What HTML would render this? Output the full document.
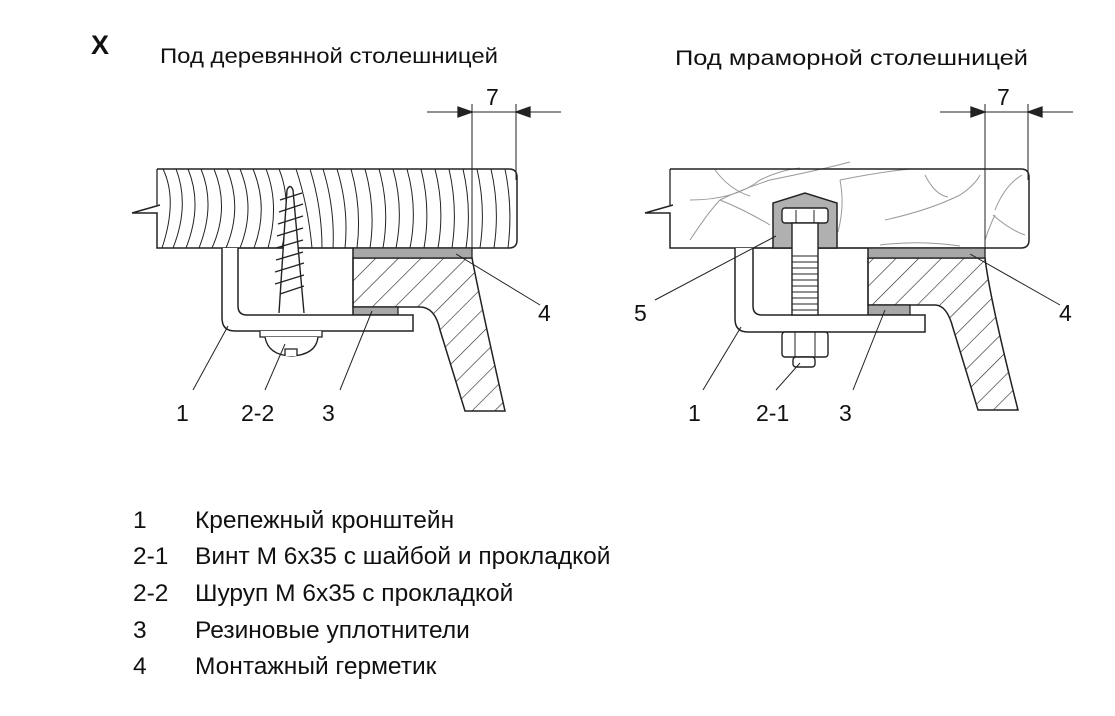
<!DOCTYPE html>
<html><head><meta charset="utf-8"><style>
html,body{margin:0;padding:0;background:#fff;}
svg{display:block;}
text{font-family:"Liberation Sans",Arial,sans-serif;fill:#111;}
</style></head><body>
<svg width="1115" height="716" viewBox="0 0 1115 716" xmlns="http://www.w3.org/2000/svg">
<defs>
<pattern id="hatch" patternUnits="userSpaceOnUse" width="16" height="16" patternTransform="rotate(45)">
<line x1="0" y1="0" x2="0" y2="16" stroke="#222" stroke-width="1.2"/>
</pattern>
<clipPath id="woodclip"><path d="M157,169 H509 Q517,169 517,177 V240 Q517,248 509,248 H157 V213 L132,213 L160,205 Z"/></clipPath>
</defs>

<text x="91" y="54" font-size="27" font-weight="bold">X</text>
<text x="160" y="63" font-size="21" textLength="338" lengthAdjust="spacingAndGlyphs">Под деревянной столешницей</text>
<text x="675" y="65" font-size="21" textLength="353" lengthAdjust="spacingAndGlyphs">Под мраморной столешницей</text>

<!-- ========== LEFT (wood) ========== -->
<g stroke="#222" fill="none" stroke-width="1.3">
<g clip-path="url(#woodclip)" stroke-width="1">
<path d="M163,169 Q178,200 162,248"/>
<path d="M176,169 Q190,205 173,248"/>
<path d="M188,169 Q203,205 186,248"/>
<path d="M201,169 Q216,205 199,248"/>
<path d="M214,169 Q230,208 212,248"/>
<path d="M227,169 Q243,208 226,248"/>
<path d="M240,169 Q256,208 240,248"/>
<path d="M253,169 Q269,208 254,248"/>
<path d="M266,169 Q280,205 268,248"/>
<path d="M279,169 Q292,200 282,248"/>
<path d="M296,169 Q308,205 312,248"/>
<path d="M310,169 Q322,208 322,248"/>
<path d="M323,169 Q335,208 333,248"/>
<path d="M337,169 Q349,208 345,248"/>
<path d="M351,169 Q362,208 357,248"/>
<path d="M365,169 Q376,208 370,248"/>
<path d="M379,169 Q390,208 383,248"/>
<path d="M393,169 Q404,208 396,248"/>
<path d="M407,169 Q418,208 410,248"/>
<path d="M421,169 Q431,208 424,248"/>
<path d="M435,169 Q445,208 438,248"/>
<path d="M449,169 Q458,208 452,248"/>
<path d="M463,169 Q472,208 466,248"/>
<path d="M477,169 Q486,208 480,248"/>
<path d="M491,169 Q500,208 494,248"/>
<path d="M505,169 Q513,208 508,248"/>
</g>
<path d="M157,169 H509 Q517,169 517,177 V240 Q517,248 509,248 H157 V213 L132,213 L160,205" stroke-width="1.5"/>
<line x1="157" y1="169" x2="157" y2="205"/>
<line x1="427" y1="112" x2="561" y2="112" stroke-width="1"/>
<line x1="472" y1="104" x2="472" y2="248" stroke-width="1"/>
<line x1="516" y1="104" x2="516" y2="180" stroke-width="1"/>
<path d="M472,112 L458,107 L458,117 Z" fill="#222"/>
<path d="M516,112 L530,107 L530,117 Z" fill="#222"/>
<path d="M353,258 H472 Q480,300 505,411 H465 L440,330 Q435,307 420,307 H353 Z" fill="url(#hatch)" stroke-width="1.5"/>
<rect x="353" y="248" width="119" height="10" fill="#a8a8a8" stroke-width="1.3"/>
<rect x="353" y="307" width="45" height="8" fill="#a8a8a8" stroke-width="1.3"/>
<path d="M222,248 V318 Q222,331 235,331 H413 V315 H247 Q238,315 238,306 V248" fill="#fff" stroke-width="1.5"/>
<line x1="238" y1="248" x2="353" y2="248"/>
<line x1="353" y1="248" x2="353" y2="315"/>
<path d="M279,313 L287,190 Q290,183 293,190 L304,313" fill="#fff" stroke-width="1.4"/>
<g stroke-width="1.4">
<line x1="280" y1="200" x2="302" y2="193"/>
<line x1="279" y1="212" x2="303" y2="204"/>
<line x1="278" y1="224" x2="303" y2="216"/>
<line x1="277" y1="236" x2="303" y2="228"/>
<line x1="276" y1="248" x2="303" y2="240"/>
<line x1="276" y1="260" x2="303" y2="252"/>
<line x1="275" y1="272" x2="304" y2="263"/>
<line x1="275" y1="284" x2="304" y2="275"/>
<line x1="280" y1="294" x2="304" y2="286"/>
</g>
<path d="M260,331 V337 H322 V331" fill="#fff"/>
<path d="M265,337 Q268,355 291,356 Q316,355 318,337" fill="#fff"/>
<path d="M285,356 V349 H297 V356" fill="#fff"/>
<g stroke-width="1">
<line x1="193" y1="390" x2="228" y2="326"/>
<line x1="265" y1="390" x2="285" y2="344"/>
<line x1="340" y1="390" x2="372" y2="311"/>
<line x1="540" y1="305" x2="456" y2="254"/>
</g>
</g>
<g font-size="23">
<text x="176" y="421">1</text>
<text x="241" y="421">2-2</text>
<text x="322" y="421">3</text>
<text x="538" y="321">4</text>
</g>

<!-- ========== RIGHT (marble) ========== -->
<g stroke="#222" fill="none" stroke-width="1.3">
<g stroke="#999" stroke-width="1">
<path d="M690,240 Q710,210 720,200 Q740,190 770,180"/>
<path d="M715,170 Q730,190 750,196"/>
<path d="M720,200 Q745,210 770,225"/>
<path d="M770,180 Q820,170 850,162"/>
<path d="M690,200 Q735,200 760,180 Q780,170 800,168"/>
<path d="M840,180 Q845,205 838,232"/>
<path d="M840,180 Q880,172 910,169"/>
<path d="M885,220 Q930,210 960,195 Q975,185 980,175"/>
<path d="M925,175 Q935,195 948,197"/>
<path d="M880,245 Q920,240 960,246"/>
<path d="M995,210 Q1005,185 1022,175"/>
<path d="M993,215 Q1010,230 1025,235"/>
<path d="M985,240 Q990,225 995,215"/>
</g>
<path d="M670,169 H1021 Q1029,169 1029,177 V240 Q1029,248 1021,248 H670 V213 L645,213 L673,205" stroke-width="1.5"/>
<line x1="670" y1="169" x2="670" y2="205"/>
<line x1="940" y1="112" x2="1073" y2="112" stroke-width="1"/>
<line x1="985" y1="104" x2="985" y2="248" stroke-width="1"/>
<line x1="1028" y1="104" x2="1028" y2="180" stroke-width="1"/>
<path d="M985,112 L971,107 L971,117 Z" fill="#222"/>
<path d="M1028,112 L1042,107 L1042,117 Z" fill="#222"/>
<path d="M868,258 H985 Q990,300 1018,410 H978 L953,328 Q947,305 935,305 H868 Z" fill="url(#hatch)" stroke-width="1.5"/>
<rect x="868" y="248" width="117" height="10" fill="#a8a8a8" stroke-width="1.3"/>
<rect x="868" y="305" width="42" height="10" fill="#a8a8a8" stroke-width="1.3"/>
<path d="M735,248 V319 Q735,332 748,332 H925 V315 H762 Q753,315 753,306 V248" fill="#fff" stroke-width="1.5"/>
<line x1="753" y1="248" x2="868" y2="248"/>
<line x1="868" y1="248" x2="868" y2="315"/>
<path d="M773,248 V203 L805,193 L837,203 V248 Z" fill="#b0b0b0" stroke-width="1.5"/>
<rect x="782" y="208" width="46" height="15" rx="3" fill="#fff" stroke-width="1.4"/>
<rect x="792" y="223" width="26" height="92" fill="#fff" stroke-width="1.4"/>
<line x1="796" y1="210" x2="796" y2="223" stroke-width="1"/>
<line x1="814" y1="210" x2="814" y2="223" stroke-width="1"/>
<g stroke-width="1">
<line x1="792" y1="256" x2="818" y2="256"/>
<line x1="792" y1="262" x2="818" y2="262"/>
<line x1="792" y1="268" x2="818" y2="268"/>
<line x1="792" y1="274" x2="818" y2="274"/>
<line x1="792" y1="280" x2="818" y2="280"/>
<line x1="792" y1="286" x2="818" y2="286"/>
<line x1="792" y1="292" x2="818" y2="292"/>
<line x1="792" y1="298" x2="818" y2="298"/>
<line x1="792" y1="304" x2="818" y2="304"/>
<line x1="792" y1="310" x2="818" y2="310"/>
</g>
<rect x="782" y="332" width="46" height="25" rx="3" fill="#fff" stroke-width="1.4"/>
<line x1="795" y1="332" x2="795" y2="357" stroke-width="1"/>
<line x1="815" y1="332" x2="815" y2="357" stroke-width="1"/>
<rect x="793" y="357" width="22" height="10" rx="3" fill="#fff" stroke-width="1.4"/>
<g stroke-width="1">
<line x1="655" y1="300" x2="776" y2="236"/>
<line x1="703" y1="390" x2="741" y2="327"/>
<line x1="776" y1="390" x2="800" y2="363"/>
<line x1="853" y1="390" x2="885" y2="310"/>
<line x1="1060" y1="305" x2="970" y2="254"/>
</g>
</g>
<g font-size="23">
<text x="688" y="421">1</text>
<text x="756" y="421">2-1</text>
<text x="839" y="421">3</text>
<text x="1059" y="321">4</text>
<text x="634" y="321">5</text>
<text x="997" y="105">7</text>
<text x="486" y="105">7</text>
</g>

<g font-size="24.5">
<text x="133" y="528">1</text><text x="195" y="528">Крепежный кронштейн</text>
<text x="133" y="564">2-1</text><text x="195" y="564">Винт М 6x35 с шайбой и прокладкой</text>
<text x="133" y="601">2-2</text><text x="195" y="601">Шуруп М 6x35 с прокладкой</text>
<text x="133" y="638">3</text><text x="195" y="638">Резиновые уплотнители</text>
<text x="133" y="674">4</text><text x="195" y="674">Монтажный герметик</text>
</g>
</svg>
</body></html>
